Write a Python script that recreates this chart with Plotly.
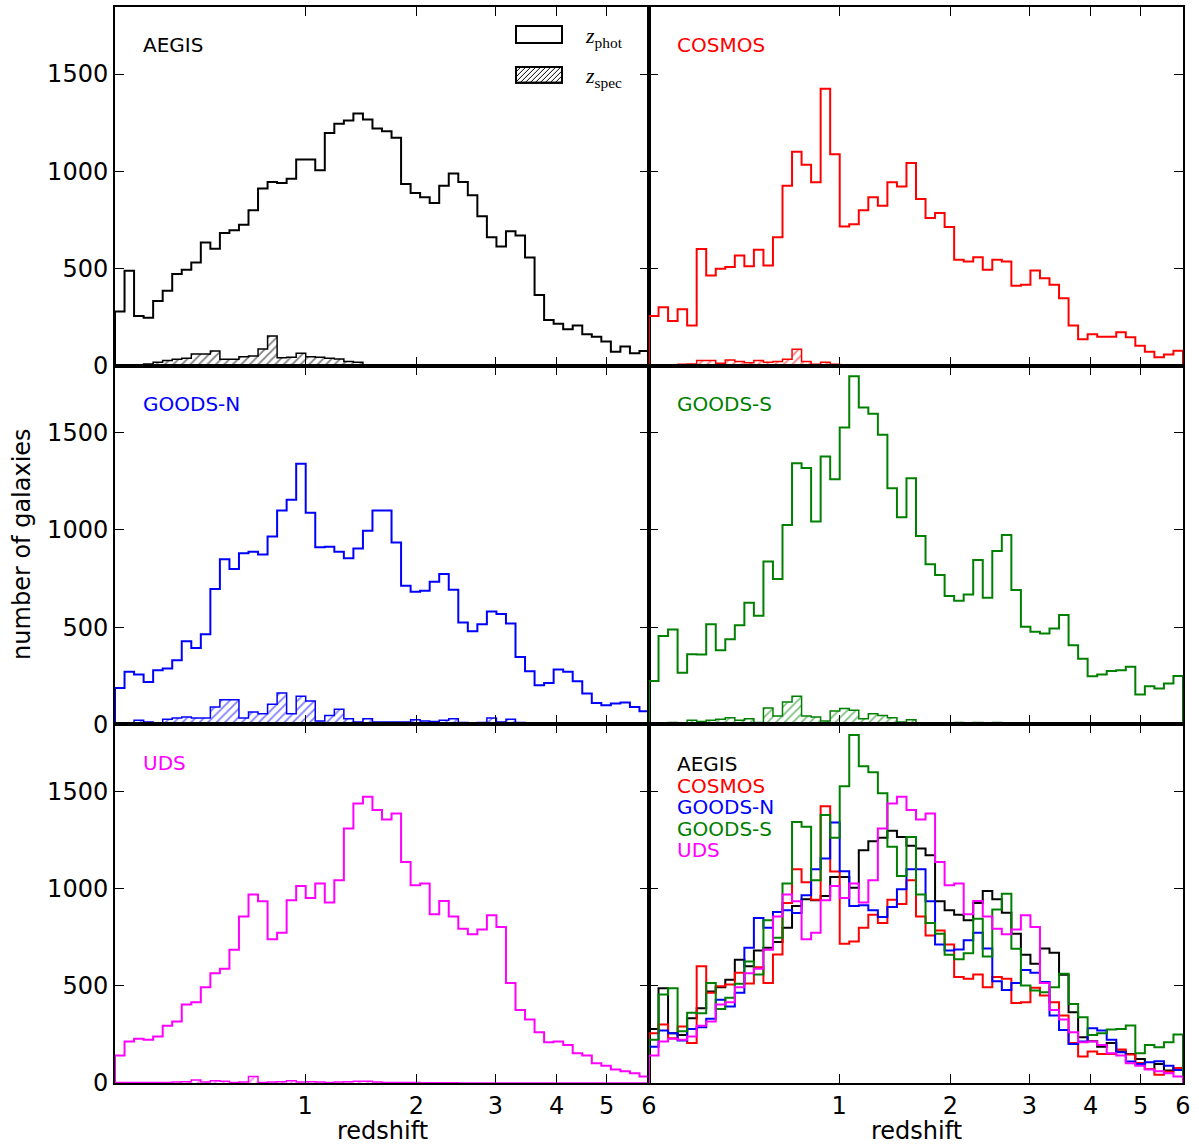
import numpy as np
import plotly.graph_objects as go
from plotly.subplots import make_subplots

# redshift bins: 56 equal bins in log10(1+z) from z=0 to z=6
n_bins = 56
edges = np.linspace(0, np.log10(7), n_bins + 1)

fields = ["AEGIS", "COSMOS", "GOODS-N", "GOODS-S", "UDS"]
colors = ["black", "#ff0000", "#0000ff", "#008000", "#ff00ff"]

aegis_phot = [278, 488, 256, 247, 333, 385, 471, 493, 531, 634,
              601, 682, 696, 725, 799, 911, 945, 940, 962, 1060,
              1060, 1005, 1197, 1244, 1261, 1297, 1266, 1220, 1206, 1172,
              935, 888, 866, 837, 926, 988, 945, 876, 768, 660,
              613, 692, 670, 557, 364, 235, 215, 187, 206, 162,
              149, 124, 72, 98, 64, 76]
aegis_spec = [3, 3, 5, 9, 17, 27, 33, 38, 60, 60,
              76, 33, 33, 46, 50, 86, 153, 41, 43, 64,
              46, 43, 38, 34, 21, 17] + [0] * 30

cosmos_phot = [256, 301, 230, 290, 206, 600, 464, 498, 507, 567,
               512, 596, 515, 661, 926, 1100, 1033, 943, 1424, 1088,
               716, 728, 799, 866, 823, 943, 921, 1043, 857, 759,
               785, 713, 545, 536, 558, 493, 545, 536, 411, 416,
               490, 450, 416, 347, 206, 136, 162, 149, 149, 172,
               146, 103, 72, 43, 58, 77]
cosmos_spec = [0, 0, 3, 7, 9, 26, 26, 12, 29, 21,
               15, 26, 17, 21, 33, 84, 21, 7, 17, 7] + [0] * 36

goodsn_phot = [187, 270, 256, 218, 278, 287, 330, 428, 393, 464,
               696, 849, 799, 880, 888, 874, 966, 1100, 1155, 1340,
               1089, 911, 914, 888, 854, 905, 996, 1100, 1100, 935,
               713, 682, 687, 734, 773, 692, 524, 479, 515, 581,
               567, 519, 347, 273, 201, 213, 282, 270, 222, 158,
               110, 98, 107, 112, 89, 67]
goodsn_spec = [0, 0, 21, 12, 7, 26, 33, 38, 33, 33,
               89, 127, 127, 33, 64, 55, 103, 161, 55, 144,
               120, 17, 46, 77, 29, 12, 29, 12, 12, 12,
               12, 24, 17, 15, 21, 29, 9, 7, 9, 33,
               12, 26, 9, 3, 2, 1, 5, 2, 1, 0,
               1, 2, 0, 0, 0, 0]

goodss_phot = [223, 455, 488, 266, 361, 359, 515, 381, 438, 510,
               625, 558, 837, 747, 1026, 1343, 1318, 1043, 1378, 1261,
               1527, 1790, 1630, 1598, 1490, 1215, 1065, 1266, 969, 823,
               768, 660, 636, 668, 845, 651, 892, 974, 691, 502,
               476, 467, 493, 562, 407, 338, 247, 256, 275, 278,
               296, 153, 196, 184, 210, 249]
goodss_spec = [0, 7, 9, 3, 21, 15, 21, 26, 34, 21,
               29, 9, 84, 43, 115, 144, 43, 38, 17, 69,
               81, 72, 29, 55, 46, 34, 12, 24, 7, 7,
               7, 5, 9, 5, 9, 7, 9, 5, 5, 3,
               3, 3, 7, 7, 3, 2, 2, 0, 0, 0,
               0, 0, 0, 0, 0, 0]

uds_phot = [141, 213, 227, 223, 239, 295, 316, 404, 416, 493,
            565, 588, 686, 857, 969, 935, 739, 773, 940, 1014,
            952, 1026, 928, 1043, 1309, 1438, 1472, 1404, 1356, 1386,
            1137, 1017, 1026, 868, 936, 857, 794, 765, 789, 863,
            802, 515, 376, 326, 261, 210, 213, 196, 153, 141,
            101, 89, 69, 60, 50, 34]
uds_spec = [2, 2, 3, 3, 2, 3, 5, 7, 15, 5,
            12, 9, 3, 5, 33, 3, 5, 7, 12, 5,
            7, 5, 3, 5, 7, 9, 9, 5, 3, 2,
            2, 2, 1, 1, 1, 1] + [0] * 20

phot = [aegis_phot, cosmos_phot, goodsn_phot, goodss_phot, uds_phot]
spec = [aegis_spec, cosmos_spec, goodsn_spec, goodss_spec, uds_spec]

z_ticks = [1, 2, 3, 4, 5, 6]
y_ticks = [0, 500, 1000, 1500]
y_max = 1845

FONT = "DejaVu Sans"


def step_xy(counts):
    # histtype='step' outline: up at first edge, down at last edge
    xs = [edges[0]] + list(edges[:-1]) + [edges[-1], edges[-1]]
    ys = [0] + list(counts) + [counts[-1], 0]
    return xs, ys


fig = make_subplots(rows=3, cols=2, horizontal_spacing=0, vertical_spacing=0)

panel_pos = [(1, 1), (1, 2), (2, 1), (2, 2), (3, 1)]

for name, col, p, s, (r, c) in zip(fields, colors, phot, spec, panel_pos):
    sx, sy = step_xy(s)
    fig.add_trace(go.Scatter(
        x=sx, y=sy, mode="lines", line=dict(color=col, width=1.5, shape="hv"),
        fill="tozeroy", fillcolor="white",
        fillpattern=dict(shape="/", fgcolor=col, bgcolor="white", size=6, solidity=0.3),
        showlegend=False, hoverinfo="skip"), row=r, col=c)
    px, py = step_xy(p)
    fig.add_trace(go.Scatter(
        x=px, y=py, mode="lines", line=dict(color=col, width=2, shape="hv"),
        showlegend=False, name=name), row=r, col=c)

# all fields together in the last panel
for name, col, p in zip(fields, colors, phot):
    px, py = step_xy(p)
    fig.add_trace(go.Scatter(
        x=px, y=py, mode="lines", line=dict(color=col, width=2, shape="hv"),
        showlegend=False, name=name), row=3, col=2)

tickvals_x = [np.log10(1 + z) for z in z_ticks]
for r in range(1, 4):
    for c in range(1, 3):
        fig.update_xaxes(
            range=[0, np.log10(7)], tickvals=tickvals_x,
            ticktext=[str(z) for z in z_ticks], showticklabels=(r == 3),
            ticks="inside", ticklen=9, tickwidth=1, tickcolor="black",
            showline=True, linewidth=2, linecolor="black", mirror="ticks",
            showgrid=False, zeroline=False,
            tickfont=dict(family=FONT, size=24, color="black"),
            row=r, col=c)
        fig.update_yaxes(
            range=[0, y_max], tickvals=y_ticks, showticklabels=(c == 1),
            ticks="inside", ticklen=9, tickwidth=1, tickcolor="black",
            showline=True, linewidth=2, linecolor="black", mirror="ticks",
            showgrid=False, zeroline=False,
            tickfont=dict(family=FONT, size=24, color="black"),
            row=r, col=c)

# panel labels
axis_ids = {(1, 1): ("x", "y"), (1, 2): ("x2", "y2"), (2, 1): ("x3", "y3"),
            (2, 2): ("x4", "y4"), (3, 1): ("x5", "y5"), (3, 2): ("x6", "y6")}
for name, col, (r, c) in zip(fields, colors, panel_pos):
    xa, ya = axis_ids[(r, c)]
    fig.add_annotation(x=0.048, y=0.893, xref=xa + " domain", yref=ya + " domain",
                       text=name, showarrow=False, xanchor="left", yanchor="middle",
                       font=dict(family=FONT, size=20, color=col))

for i, (name, col) in enumerate(zip(fields, colors)):
    fig.add_annotation(x=0.048, y=0.889 - i * 0.06, xref="x6 domain", yref="y6 domain",
                       text=name, showarrow=False, xanchor="left", yanchor="middle",
                       font=dict(family=FONT, size=20, color=col))

# legend keys in the AEGIS panel (drawn in pixel units, converted to domain)
PW, PH = 534.0, 1078.0 / 3


def dom(px_x, px_y):
    return px_x / PW, 1 - px_y / PH


x0, x1 = 401, 447
for (ytop, ybot) in [(19, 36), (60, 76)]:
    a = dom(x0, ytop)
    b = dom(x1, ybot)
    fig.add_shape(type="rect", xref="x domain", yref="y domain",
                  x0=a[0], x1=b[0], y0=b[1], y1=a[1],
                  line=dict(color="black", width=2), fillcolor="white")

# hatch lines for the z_spec key
W, H = x1 - x0, 76 - 60
path = ""
for k in range(-H, W, 5):
    ya0 = max(0, -k)
    ya1 = min(H, W - k)
    if ya1 <= ya0:
        continue
    p0 = dom(x0 + k + ya0, 76 - ya0)
    p1 = dom(x0 + k + ya1, 76 - ya1)
    path += f"M{p0[0]:.5f},{p0[1]:.5f} L{p1[0]:.5f},{p1[1]:.5f} "
fig.add_shape(type="path", xref="x domain", yref="y domain", path=path,
              line=dict(color="black", width=1))
a = dom(x0, 60)
b = dom(x1, 76)
fig.add_shape(type="rect", xref="x domain", yref="y domain",
              x0=a[0], x1=b[0], y0=b[1], y1=a[1],
              line=dict(color="black", width=2))

for text, ypx in [("<i>z</i><sub>phot</sub>", 30), ("<i>z</i><sub>spec</sub>", 70)]:
    fig.add_annotation(x=468 / PW, y=1 - ypx / PH, xref="x domain", yref="y domain",
                       text=text, showarrow=False, xanchor="left", yanchor="middle",
                       font=dict(family="Liberation Serif", size=22, color="black"))

# axis titles
fig.add_annotation(x=-0.0871, y=0.501, xref="paper", yref="paper", text="number of galaxies",
                   textangle=-90, showarrow=False, xanchor="center", yanchor="middle",
                   font=dict(family=FONT, size=24, color="black"))
for xc in [0.25, 0.75]:
    fig.add_annotation(x=xc, y=-0.0445, xref="paper", yref="paper", text="redshift",
                       showarrow=False, xanchor="center", yanchor="middle",
                       font=dict(family=FONT, size=24, color="black"))

fig.update_layout(
    width=1199, height=1147,
    margin=dict(l=115, r=16, t=5, b=64),
    plot_bgcolor="white", paper_bgcolor="white",
    font=dict(family=FONT, color="black"),
    showlegend=False,
)

# drop the default page margin so the figure sits at the window corner
fig.write_html("out.html", config={"displayModeBar": False},
               post_script="document.body.style.margin='0';")
